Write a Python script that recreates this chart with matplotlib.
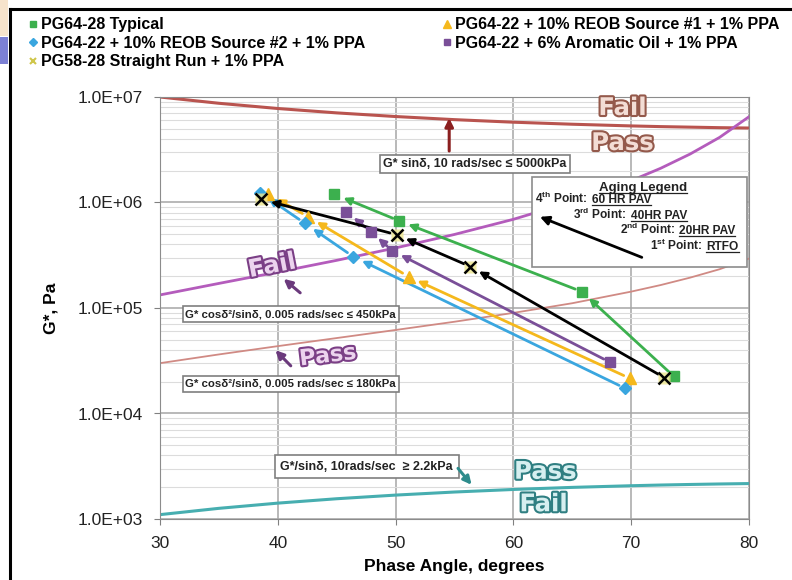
import matplotlib
matplotlib.use("Agg")
import matplotlib.pyplot as plt
import matplotlib.patheffects as pe
import numpy as np
from matplotlib.lines import Line2D
from matplotlib.patches import Rectangle
from matplotlib.ticker import LogLocator, NullFormatter, FuncFormatter

plt.rcParams["font.family"] = ["Liberation Sans", "DejaVu Sans"]
plt.rcParams["mathtext.fontset"] = "custom"
plt.rcParams["mathtext.rm"] = "Liberation Sans"
plt.rcParams["mathtext.bf"] = "Liberation Sans:bold"

# ---------- DATA (1st point RTFO -> 4th point 60 HR PAV) ----------
green_phase = [73.6, 65.8, 50.3, 44.8]
green_g = [2.26e4, 1.43e5, 6.7e5, 1.2e6]
yellow_phase = [69.9, 51.1, 42.6, 39.2]
yellow_g = [2.15e4, 1.98e5, 7.3e5, 1.2e6]
blue_phase = [69.5, 46.4, 42.3, 38.5]
blue_g = [1.73e4, 3.07e5, 6.35e5, 1.24e6]
purple_phase = [68.2, 49.7, 47.9, 45.8]
purple_g = [3.06e4, 3.5e5, 5.3e5, 8.2e5]
sr_phase = [72.8, 56.35, 50.1, 38.6]
sr_g = [2.19e4, 2.47e5, 4.95e5, 1.07e6]

# specification limit curves
limit_phase = [30, 35, 40, 45, 50, 55, 60, 65, 70, 72.5, 75, 77.5, 80]
limit_5000 = [1.0e7, 8.72e6, 7.78e6, 7.07e6, 6.53e6, 6.10e6, 5.77e6, 5.52e6,
              5.32e6, 5.24e6, 5.18e6, 5.12e6, 5.08e6]
limit_450 = [1.33e5, 1.71e5, 2.19e5, 2.83e5, 3.71e5, 4.98e5, 6.93e5, 1.02e6,
             1.61e6, 2.11e6, 2.88e6, 4.14e6, 6.5e6]
limit_180 = [3.0e4, 3.63e4, 4.35e4, 5.19e4, 6.19e4, 7.41e4, 8.99e4, 1.11e5,
             1.43e5, 1.65e5, 1.94e5, 2.33e5, 2.94e5]
limit_22 = [1100, 1262, 1414, 1556, 1685, 1802, 1905, 1994, 2067, 2099, 2125,
            2148, 2167]

labels = ["PG64-28 Typical", "PG64-22 + 10% REOB Source #1 + 1% PPA",
          "PG64-22 + 10% REOB Source #2 + 1% PPA",
          "PG64-22 + 6% Aromatic Oil + 1% PPA", "PG58-28 Straight Run + 1% PPA"]

W, H = 792, 580
fig = plt.figure(figsize=(W / 100, H / 100), dpi=100)
ax = fig.add_axes([160 / W, 61 / H, 589 / W, 422 / H])
ax.set_xlim(30, 80)
ax.set_yscale("log")
ax.set_ylim(1e3, 1e7)
ax.set_xticks([30, 40, 50, 60, 70, 80])
ax.yaxis.set_major_locator(LogLocator(base=10, numticks=10))
ax.yaxis.set_minor_locator(LogLocator(base=10, subs=np.arange(2, 10), numticks=50))
ax.yaxis.set_minor_formatter(NullFormatter())
ax.yaxis.set_major_formatter(FuncFormatter(lambda v, p: f"{v:.1E}"))
ax.tick_params(axis="both", which="major", labelsize=12.5, length=4,
               color="#808080", pad=8, labelcolor="#222222")
ax.tick_params(axis="y", which="minor", length=0)
ax.grid(which="major", color="#a6a6a6", lw=1.1)
ax.grid(which="minor", axis="y", color="#dcdcdc", lw=0.8)
ax.set_axisbelow(True)
for s in ax.spines.values():
    s.set_color("#8c8c8c")
ax.set_xlabel("Phase Angle, degrees", fontsize=12.5, fontweight="bold", labelpad=6)
ax.set_ylabel("G*, Pa", fontsize=12.5, fontweight="bold", labelpad=14)

# limit curves
ax.plot(limit_phase, limit_5000, color="#b9544f", lw=2.2, zorder=2)
ax.plot(limit_phase, limit_450, color="#b45cbc", lw=2.0, zorder=2)
ax.plot(limit_phase, limit_180, color="#d08a84", lw=1.3, zorder=2)
ax.plot(limit_phase, limit_22, color="#47aeb0", lw=2.2, zorder=2)

# aging series
series = [
    (green_phase, green_g, "#3cb04e", "s", 7.5),
    (yellow_phase, yellow_g, "#f5b81c", "^", 8.5),
    (blue_phase, blue_g, "#3aa6df", "D", 6.5),
    (purple_phase, purple_g, "#7a4f98", "s", 7.5),
]
for ph, g, c, m, ms in series:
    for i in range(len(ph) - 1):
        ax.annotate("", xy=(ph[i + 1], g[i + 1]), xytext=(ph[i], g[i]),
                    arrowprops=dict(arrowstyle="-|>", color=c, lw=2.0,
                                    shrinkA=5, shrinkB=7, mutation_scale=11),
                    zorder=3)
    ax.plot(ph, g, ls="none", marker=m, ms=ms, color=c, mec=c, zorder=4)

for i in range(len(sr_phase) - 1):
    ax.annotate("", xy=(sr_phase[i + 1], sr_g[i + 1]), xytext=(sr_phase[i], sr_g[i]),
                arrowprops=dict(arrowstyle="-|>", color="black", lw=2.0,
                                shrinkA=5, shrinkB=7, mutation_scale=11),
                zorder=3)
ax.plot(sr_phase, sr_g, ls="none", marker="s", ms=9, color="#ece58e",
        mec="none", alpha=0.8, zorder=4)
ax.plot(sr_phase, sr_g, ls="none", marker="x", ms=8, mew=1.8, color="black", zorder=5)

# legend
handles = [
    Line2D([], [], ls="none", marker="s", ms=5, color="#3cb04e"),
    Line2D([], [], ls="none", marker="D", ms=4.5, color="#3aa6df"),
    Line2D([], [], ls="none", marker="x", ms=5, mew=1.5, color="#cfc64a"),
    Line2D([], [], ls="none", marker="^", ms=6, color="#f5b81c"),
    Line2D([], [], ls="none", marker="s", ms=5, color="#7a4f98"),
]
leg_labels = [labels[0], labels[2], labels[4], labels[1], labels[3]]
fig.legend(handles, leg_labels, loc="upper left", bbox_to_anchor=(22 / W, 1 - 11 / H),
           ncol=2, frameon=False, prop=dict(size=11.5, weight="bold"),
           handlelength=0.6, handletextpad=0.2, columnspacing=4.8,
           labelspacing=0.22, borderaxespad=0)

# boxed annotations
box_font = dict(family=["Liberation Sans Narrow", "Liberation Sans", "DejaVu Sans"],
                size=9, weight="bold", color="#222222")
box_style = dict(boxstyle="square,pad=0.25", fc="white", ec="#7f7f7f", lw=1.2)

ax.text(0.535, 0.841, "G* sinδ, 10 rads/sec ≤ 5000kPa", transform=ax.transAxes,
        ha="center", va="center", bbox=box_style, zorder=6, **box_font)
ax.annotate("", xy=(0.491, 0.950), xytext=(0.491, 0.872), xycoords="axes fraction",
            arrowprops=dict(arrowstyle="-|>", color="#8b1f1f", lw=2.2, mutation_scale=12,
                            shrinkA=0, shrinkB=0), zorder=6)

small_box_font = dict(box_font, size=8.2)
ax.text(0.222, 0.485, "G* cosδ²/sinδ, 0.005 rads/sec ≤ 450kPa", transform=ax.transAxes,
        ha="center", va="center", bbox=box_style, zorder=6, **small_box_font)
ax.text(0.222, 0.320, "G* cosδ²/sinδ, 0.005 rads/sec ≤ 180kPa", transform=ax.transAxes,
        ha="center", va="center", bbox=box_style, zorder=6, **small_box_font)
for start, end in [((0.238, 0.536), (0.210, 0.569)), ((0.222, 0.363), (0.196, 0.400))]:
    ax.annotate("", xy=end, xytext=start, xycoords="axes fraction",
                arrowprops=dict(arrowstyle="-|>", color="#6b3a7c", lw=2.2,
                                mutation_scale=12, shrinkA=0, shrinkB=0), zorder=6)

ax.text(0.351, 0.124, "G*/sinδ, 10rads/sec  ≥ 2.2kPa", transform=ax.transAxes,
        ha="center", va="center", zorder=6, **box_font,
        bbox=dict(boxstyle="square,pad=0.45", fc="white", ec="#7f7f7f", lw=1.2))
ax.annotate("", xy=(0.529, 0.081), xytext=(0.506, 0.120), xycoords="axes fraction",
            arrowprops=dict(arrowstyle="-|>", color="#2d8c8c", lw=2.2, mutation_scale=12,
                            shrinkA=0, shrinkB=0), zorder=6)

# Pass / Fail word-art labels
def wordart(x, y, s, fill, edge, rot=0, size=17.5):
    ax.text(x, y, s, transform=ax.transAxes, ha="center", va="center",
            family="DejaVu Sans", weight="bold", size=size, color=fill, rotation=rot,
            path_effects=[pe.withStroke(linewidth=3.0, foreground=edge)], zorder=7)

wordart(0.785, 0.974, "Fail", "#f3ddd5", "#94594b")
wordart(0.785, 0.891, "Pass", "#f3ddd5", "#94594b")
wordart(0.190, 0.600, "Fail", "#ecd3ee", "#7b3f86", rot=11)
wordart(0.285, 0.386, "Pass", "#ecd3ee", "#7b3f86", rot=7, size=16)
wordart(0.654, 0.112, "Pass", "#d6eff0", "#2f7f82")
wordart(0.651, 0.035, "Fail", "#d6eff0", "#2f7f82")

# aging legend box
ax.add_patch(Rectangle((0.631, 0.598), 0.365, 0.213, transform=ax.transAxes,
                       fc="white", ec="#8c8c8c", lw=1.2, zorder=6))
renderer = fig.canvas.get_renderer()
aging_font = dict(family=["Liberation Sans Narrow", "Liberation Sans"], size=8.6,
                  weight="bold", color="#222222")


def underline(t):
    bb = t.get_window_extent(renderer)
    fig.add_artist(Line2D([bb.x0 / W, bb.x1 / W], [(bb.y0 + 1.5) / H] * 2,
                          transform=fig.transFigure, color="#222222", lw=0.9, zorder=8))


title = ax.text(0.820, 0.784, "Aging Legend", transform=ax.transAxes, ha="center",
                va="center", zorder=7, **dict(aging_font, size=9.5))
underline(title)
aging_lines = [
    (0.637, 0.748, r"4$^{\mathbf{th}}$ Point:", "60 HR PAV"),
    (0.702, 0.710, r"3$^{\mathbf{rd}}$ Point:", "40HR PAV"),
    (0.781, 0.675, r"2$^{\mathbf{nd}}$ Point:", "20HR PAV"),
    (0.832, 0.637, r"1$^{\mathbf{st}}$ Point:", "RTFO"),
]
for x, y, pre, und in aging_lines:
    t1 = ax.text(x, y, pre, transform=ax.transAxes, ha="left", va="baseline",
                 zorder=7, **aging_font)
    bb = t1.get_window_extent(renderer)
    t2 = fig.text((bb.x1 + 4) / W, ax.transAxes.transform((x, y))[1] / H, und,
                  ha="left", va="baseline", zorder=7, **aging_font)
    underline(t2)
ax.annotate("", xy=(0.645, 0.716), xytext=(0.818, 0.620), xycoords="axes fraction",
            arrowprops=dict(arrowstyle="-|>", color="black", lw=2.0, mutation_scale=13,
                            shrinkA=0, shrinkB=0), zorder=7)

# slide frame remnants
fig.add_artist(Line2D([10 / W, 10 / W], [0, 1 - 9 / H], transform=fig.transFigure,
                      color="black", lw=2.2))
fig.add_artist(Line2D([10 / W, 1], [1 - 9 / H, 1 - 9 / H], transform=fig.transFigure,
                      color="black", lw=2.2))
fig.add_artist(Rectangle((0, 1 - 36 / H), 8 / W, 36 / H, transform=fig.transFigure,
                         fc="#f6e3cc", ec="none"))
fig.add_artist(Rectangle((0, 1 - 64 / H), 8 / W, 27 / H, transform=fig.transFigure,
                         fc="#7c80d4", ec="none"))

fig.savefig("out.png", dpi=100)
